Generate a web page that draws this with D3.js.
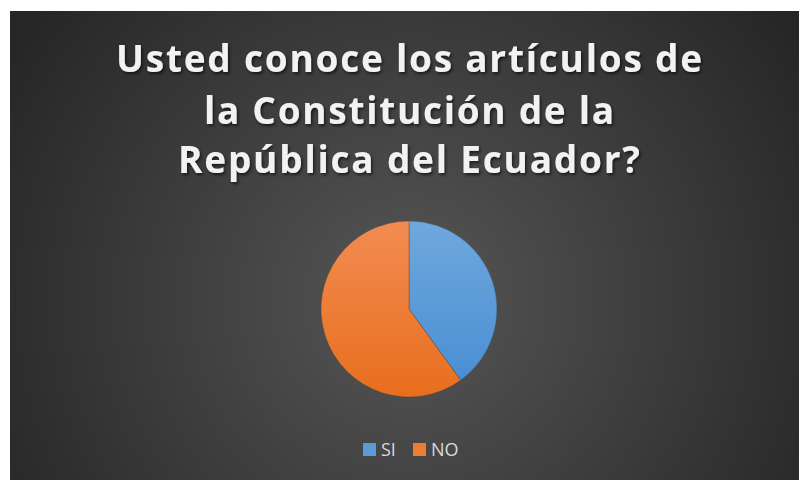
<!DOCTYPE html>
<html><head><meta charset="utf-8">
<script src="https://cdn.jsdelivr.net/npm/d3@7"></script>
<style>html,body{margin:0;padding:0;background:#fff;}svg{display:block;}</style>
</head><body>
<svg id="chart" width="799" height="480"></svg>
<script>
const categories = ["SI", "NO"];
const values = [40, 60];
const colors = ["#5b9bd5", "#ed7d31"];
const titleLines = ["Usted conoce los artículos de", "la Constitución de la", "República del Ecuador?"];

const svg = d3.select("#chart");
const defs = svg.append("defs");

const bg = defs.append("radialGradient").attr("id","bg")
  .attr("gradientUnits","userSpaceOnUse").attr("cx",409).attr("cy",300).attr("r",470);
bg.append("stop").attr("offset","0%").attr("stop-color","#565656");
bg.append("stop").attr("offset","100%").attr("stop-color","#262626");

const gradStops = [["#6fa8dd","#4a8fd3"],["#f28c52","#e86e1d"]];
gradStops.forEach((s,i)=>{
  const g = defs.append("linearGradient").attr("id","sl"+i).attr("x1",0).attr("y1",0).attr("x2",0).attr("y2",1);
  g.append("stop").attr("offset","0%").attr("stop-color",s[0]);
  g.append("stop").attr("offset","100%").attr("stop-color",s[1]);
});

const sh = defs.append("filter").attr("id","tshadow").attr("x","-10%").attr("y","-20%").attr("width","120%").attr("height","150%");
sh.append("feDropShadow").attr("dx",1.5).attr("dy",2).attr("stdDeviation",1.5).attr("flood-color","#000").attr("flood-opacity",0.6);

svg.append("rect").attr("x",10).attr("y",11).attr("width",789).attr("height",469).attr("fill","url(#bg)");

// Title
const titleWidths = [586, 410, 462];
const baselines = [72, 124, 173];
svg.append("g").selectAll("text").data(titleLines).join("text")
  .attr("x",409).attr("y",(d,i)=>baselines[i])
  .attr("text-anchor","middle")
  .attr("font-family","'Open Sans', sans-serif")
  .attr("font-weight","bold")
  .attr("font-size",37)
  .attr("fill","#f2f2f2")
  .attr("filter","url(#tshadow)")
  .attr("textLength",(d,i)=>titleWidths[i])
  .attr("lengthAdjust","spacing")
  .text(d=>d);

// Pie
const cx = 409, cy = 309, r = 88;
const pie = d3.pie().sort(null).value(d=>d);
const arc = d3.arc().innerRadius(0).outerRadius(r);
const pg = svg.append("g").attr("transform",`translate(${cx},${cy})`);
pg.selectAll("path").data(pie(values)).join("path")
  .attr("d",arc)
  .attr("fill",(d,i)=>`url(#sl${i})`)
  .attr("stroke","#404040").attr("stroke-width",0.6).attr("stroke-opacity",0.6);

// Legend
const legendX = [363, 413];
const lg = svg.append("g");
categories.forEach((c,i)=>{
  lg.append("rect").attr("x",legendX[i]).attr("y",443).attr("width",13).attr("height",13).attr("fill",colors[i]);
  lg.append("text").attr("x",legendX[i]+18).attr("y",456)
    .attr("font-family","'Open Sans', sans-serif").attr("font-size",18)
    .attr("fill","#d9d9d9").text(c);
});
</script>
</body></html>
